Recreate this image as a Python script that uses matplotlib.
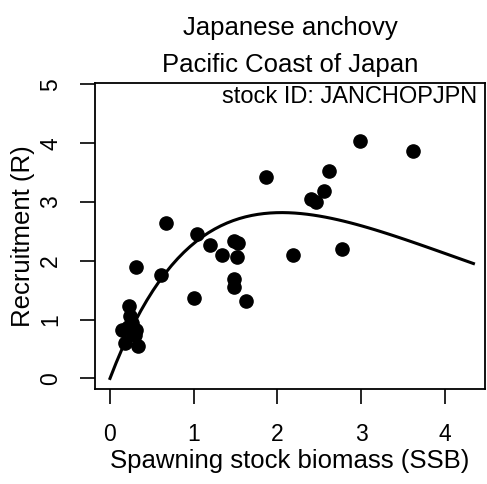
import numpy as np
import matplotlib
matplotlib.use('Agg')
from matplotlib import pyplot as plt

plt.rcParams['font.family'] = ['Liberation Sans', 'DejaVu Sans']

# spawning stock biomass and recruitment
ssb = [2.99, 3.62, 1.86, 2.62, 2.55, 2.40, 2.46, 0.67, 1.04, 1.19, 1.34,
       1.48, 1.53, 1.52, 2.19, 2.77, 0.31, 0.61, 1.48, 1.48, 1.00, 1.62,
       0.23, 0.24, 0.26, 0.14, 0.22, 0.31, 0.30, 0.18, 0.34]
rec = [4.03, 3.86, 3.42, 3.52, 3.19, 3.05, 3.00, 2.64, 2.45, 2.27, 2.10,
       2.33, 2.30, 2.06, 2.10, 2.20, 1.89, 1.76, 1.69, 1.55, 1.36, 1.32,
       1.23, 1.06, 0.95, 0.83, 0.88, 0.82, 0.74, 0.60, 0.55]

# Ricker fit R = a * S * exp(-b * S)
ricker_a = 3.74
ricker_b = 1 / 2.05
s_max = 4.34

xticks = [0, 1, 2, 3, 4]
yticks = [0, 1, 2, 3, 4, 5]

fig = plt.figure(figsize=(4.87, 4.84), dpi=100)
ax = fig.add_axes([95 / 487, 1 - 389 / 484, 390 / 487, 306 / 484])

s = np.linspace(0, s_max, 60)
ax.plot(s, ricker_a * s * np.exp(-ricker_b * s), color='black', lw=2.2)
ax.plot(ssb, rec, 'o', color='black', ms=9.5)

ax.set_xlim(-0.179, 4.478)
ax.set_ylim(-0.18, 5.025)
ax.set_xticks(xticks)
ax.set_yticks(yticks)
ax.set_yticklabels([str(t) for t in yticks], rotation=90, va='center')
ax.tick_params(length=10.5, width=1.2, labelsize=16.5, colors='black')
ax.tick_params(axis='x', pad=14)
ax.tick_params(axis='y', pad=13)
for sp in ax.spines.values():
    sp.set_linewidth(1.3)

ax.set_xlabel('Spawning stock biomass (SSB)', fontsize=18.5, labelpad=2)
ax.set_ylabel('Recruitment (R)', fontsize=18.5, labelpad=3)
fig.text(290 / 487, 1 - 35 / 484, 'Japanese anchovy', ha='center',
         va='baseline', fontsize=18.5)
fig.text(290 / 487, 1 - 72 / 484, 'Pacific Coast of Japan', ha='center',
         va='baseline', fontsize=18.5)
ax.text(0.98, 0.99, 'stock ID: JANCHOPJPN', transform=ax.transAxes,
        ha='right', va='top', fontsize=17)

fig.savefig('out.png', dpi=100)
